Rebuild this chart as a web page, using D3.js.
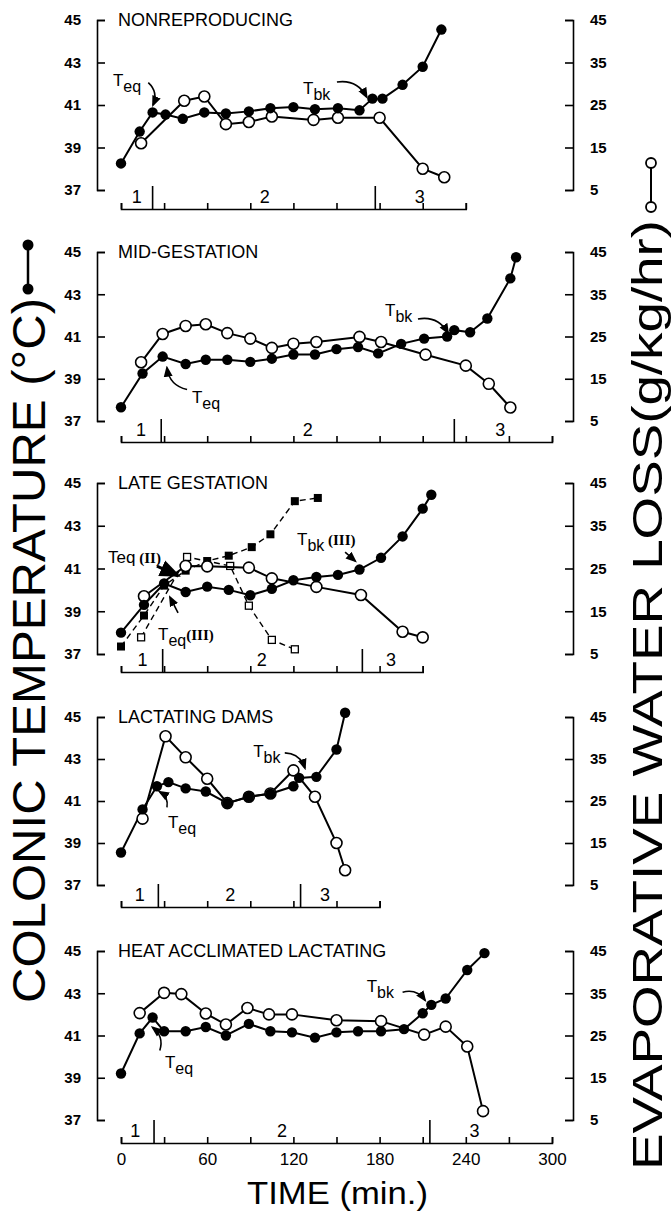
<!DOCTYPE html>
<html>
<head>
<meta charset="utf-8">
<script src="https://cdn.jsdelivr.net/npm/d3@7"></script>
<style>
  body { margin: 0; background: #fff; }
  svg { display: block; }
  text { font-family: "Liberation Sans", Arial, sans-serif; fill: #000; }
</style>
</head>
<body>
<svg id="chart" width="672" height="1213"></svg>
<script>
// ---- data (time in min, colonic temp in C, EWL in g/kg/hr)

// nonreproducing
const p1TempTime = [0, 13, 22, 31, 43, 58, 73, 89, 104, 120, 135, 151, 166, 175, 182, 196, 210, 223]
const p1Temp = [38.25, 39.75, 40.65, 40.55, 40.35, 40.65, 40.6, 40.7, 40.85, 40.9, 40.8, 40.85, 40.75, 41.3, 41.3, 41.95, 42.8, 44.55]
const p1EwlTime = [14, 44, 58, 73, 89, 105, 134, 151, 180, 210, 225]
const p1Ewl = [16, 26, 27, 20.5, 21, 22.3, 21.5, 22, 22, 10, 8]

// mid-gestation
const p2TempTime = [0, 15, 29, 45, 59, 74, 90, 105, 120, 135, 150, 165, 179, 195, 211, 227, 232, 243, 255, 271, 275]
const p2Temp = [37.65, 39.25, 40.05, 39.7, 39.9, 39.9, 39.8, 39.95, 40.15, 40.15, 40.4, 40.5, 40.2, 40.65, 40.9, 41, 41.3, 41.2, 41.85, 43.75, 44.75]
const p2EwlTime = [14, 29, 45, 59, 74, 90, 105, 120, 136, 166, 181, 212, 240, 256, 271]
const p2Ewl = [18.9, 25.6, 27.5, 27.9, 25.8, 24.5, 22.3, 23.3, 23.7, 24.9, 23.7, 20.7, 18.1, 13.8, 8.2]

// late gestation, group III (circles) and group II (squares, dashed)
const p3TempTime = [0, 16, 30, 45, 60, 75, 90, 105, 120, 136, 151, 166, 181, 196, 210, 216]
const p3Temp = [38, 39.3, 40.3, 39.9, 40.15, 40, 39.75, 40.05, 40.45, 40.6, 40.7, 40.95, 41.5, 42.5, 43.8, 44.45]
const p3EwlTime = [16, 45, 60, 89, 105, 136, 167, 196, 210]
const p3Ewl = [18.5, 25.6, 25.5, 25.2, 22.7, 20.7, 18.8, 10.2, 8.9]
const p3TempIITime = [0, 16, 30, 45, 60, 75, 91, 104, 121, 137]
const p3TempII = [37.35, 38.8, 40.2, 40.9, 41.35, 41.6, 42, 42.6, 44.15, 44.3]
const p3EwlIITime = [14, 46, 76, 89, 105, 121]
const p3EwlII = [8.9, 27.7, 25.6, 16.3, 8.3, 6.1]

// lactating dams
const p4TempTime = [0, 15, 25, 33, 45, 59, 74, 89, 104, 120, 124, 136, 150, 156]
const p4Temp = [38.55, 40.6, 41.7, 41.9, 41.6, 41.45, 40.9, 41.2, 41.35, 41.7, 42.1, 42.15, 43.45, 45.2]
const p4EwlTime = [15, 31, 45, 60, 74, 89, 104, 120, 135, 150, 156]
const p4Ewl = [20.8, 40.4, 35.4, 30.3, 24.5, 26, 26.8, 32.3, 26, 15, 8.5]

// heat acclimated lactating
const p5TempTime = [0, 13, 22, 30, 45, 59, 73, 89, 104, 119, 135, 150, 165, 181, 197, 210, 216, 226, 241, 253]
const p5Temp = [39.2, 41.1, 41.85, 41.2, 41.2, 41.4, 41, 41.55, 41.2, 41.15, 40.9, 41.15, 41.2, 41.2, 41.3, 42.05, 42.45, 42.75, 44.1, 44.9]
const p5EwlTime = [13, 30, 42, 59, 73, 88, 103, 119, 150, 181, 211, 226, 241, 252]
const p5Ewl = [30.3, 35.1, 34.8, 30.2, 27.6, 31.5, 30, 30, 28.6, 28.4, 25.2, 27.1, 22.4, 7.1]

const panelTitles = ['NONREPRODUCING', 'MID-GESTATION', 'LATE GESTATION', 'LACTATING DAMS', 'HEAT ACCLIMATED LACTATING']
const axisEnds = [240, 300, 210, 180, 300]
const phaseDividers = [[22, 177], [28, 232], [29, 168], [26, 125], [23, 215]]
const phaseLabelAt = [[11, 100, 208], [14, 130, 264], [15, 98, 188], [13, 76, 142], [10, 112, 246]]
const tempTicks = [37, 39, 41, 43, 45]
const ewlTicks = [5, 15, 25, 35, 45]
const timeLabels = [0, 60, 120, 180, 240, 300]

// annotations: [label, sub, extra, textT, textTemp, arrowFromT, arrowFromTemp, arrowToT, arrowToTemp, bend]
const notes = [
  [['T', 'eq', '', -5.6, 41.9, 19, 42.05, 22.3, 41.0, -1], ['T', 'bk', '', 126.7, 41.5, 150.3, 42.08, 171, 41.38, -1]],
  [['T', 'bk', '', 183.8, 41.98, 206.7, 41.83, 227.6, 41.17, -1], ['T', 'eq', '', 49.4, 37.87, 46, 38.49, 32, 39.52, -1]],
  [['Teq', '', ' (II)', -9, 41.25, 25, 41.11, 39, 40.69, 0], ['T', 'eq', '(III)', 25.8, 37.65, 39.7, 38.92, 34.1, 39.66, 0],
   ['T', 'bk', ' (III)', 122.5, 42.09, 156, 41.77, 163, 41.35, 0]],
  [['T', 'bk', '', 92, 43.1, 114, 43.29, 128, 42.57, -1], ['T', 'eq', '', 32.7, 39.7, 32, 40.7, 27, 41.43, 1]],
  [['T', 'bk', '', 171, 43.05, 196, 43.05, 211.6, 42.67, -1], ['T', 'eq', '', 30.6, 39.48, 27, 40.29, 22, 41.38, 1]]
]

// ---- layout
const panelTops = [20, 252, 483, 717, 951]
const panelBottoms = [190, 421, 654, 885, 1120]
const timeAxisY = [209, 442, 672, 907, 1143]

const svg = d3.select('#chart')
const x = d3.scaleLinear().domain([0, 300]).range([121, 552])

svg.append('defs').append('marker')
  .attr('id', 'head')
  .attr('viewBox', '0 0 10 10')
  .attr('refX', 8).attr('refY', 5)
  .attr('markerWidth', 7).attr('markerHeight', 7)
  .attr('orient', 'auto')
  .append('path').attr('d', 'M0,1 L10,5 L0,9 Z').attr('fill', '#000')

function zip(a, b) { return a.map((v, i) => [v, b[i]]) }

const series = [
  { temp: zip(p1TempTime, p1Temp), ewl: zip(p1EwlTime, p1Ewl) },
  { temp: zip(p2TempTime, p2Temp), ewl: zip(p2EwlTime, p2Ewl) },
  { temp: zip(p3TempTime, p3Temp), ewl: zip(p3EwlTime, p3Ewl),
    tempII: zip(p3TempIITime, p3TempII), ewlII: zip(p3EwlIITime, p3EwlII) },
  { temp: zip(p4TempTime, p4Temp), ewl: zip(p4EwlTime, p4Ewl) },
  { temp: zip(p5TempTime, p5Temp), ewl: zip(p5EwlTime, p5Ewl) }
]

series.forEach(function (s, i) {
  const yT = d3.scaleLinear().domain([37, 45]).range([panelBottoms[i], panelTops[i]])
  const yE = d3.scaleLinear().domain([5, 45]).range([panelBottoms[i], panelTops[i]])
  const g = svg.append('g')

  // left axis, ticks pointing inward
  const la = g.append('g').attr('transform', 'translate(97,0)')
    .call(d3.axisLeft(yT).tickValues(tempTicks).tickSizeInner(-8).tickSizeOuter(-8).tickPadding(16))
  const ra = g.append('g').attr('transform', 'translate(573,0)')
    .call(d3.axisRight(yE).tickValues(ewlTicks).tickSizeInner(-8).tickSizeOuter(-8).tickPadding(17))
  ;[la, ra].forEach(function (a) {
    a.selectAll('path,line').attr('stroke', '#000').attr('stroke-width', 1.6)
    a.selectAll('text').attr('font-size', 15).attr('font-weight', 'bold')
      .attr('font-family', '"DejaVu Sans", sans-serif').attr('fill', '#000')
  })

  // time axis
  const ta = g.append('g').attr('transform', 'translate(0,' + timeAxisY[i] + ')')
    .call(d3.axisBottom(x.copy().domain([0, axisEnds[i]]).range([x(0), x(axisEnds[i])]))
      .tickValues(d3.range(0, axisEnds[i] + 1, 30))
      .tickSizeInner(-6).tickSizeOuter(-6).tickPadding(10)
      .tickFormat(function (d) { return (i === 4 && timeLabels.indexOf(d) >= 0) ? d : '' }))
  ta.selectAll('path,line').attr('stroke', '#000').attr('stroke-width', 1.6)
  ta.selectAll('text').attr('font-size', 17).attr('fill', '#000')
    .attr('font-family', '"DejaVu Sans", sans-serif')

  g.selectAll('.div').data(phaseDividers[i]).enter().append('line')
    .attr('x1', d => x(d)).attr('x2', d => x(d))
    .attr('y1', timeAxisY[i]).attr('y2', timeAxisY[i] - 23)
    .attr('stroke', '#000').attr('stroke-width', 1.6)
  g.selectAll('.ph').data(phaseLabelAt[i]).enter().append('text')
    .attr('x', d => x(d)).attr('y', timeAxisY[i] - 6)
    .attr('text-anchor', 'middle').attr('font-size', 18)
    .text((d, k) => k + 1)

  // panel title
  g.append('text').attr('x', 118).attr('y', panelTops[i] + 6)
    .attr('font-size', 18).text(panelTitles[i])

  const lineT = d3.line().x(d => x(d[0])).y(d => yT(d[1]))
  const lineE = d3.line().x(d => x(d[0])).y(d => yE(d[1]))

  // group II dashed series (late gestation only)
  if (s.tempII) {
    g.append('path').datum(s.ewlII).attr('d', lineE).attr('fill', 'none')
      .attr('stroke', '#000').attr('stroke-width', 1.4).attr('stroke-dasharray', '6,4')
    g.append('path').datum(s.tempII).attr('d', lineT).attr('fill', 'none')
      .attr('stroke', '#000').attr('stroke-width', 1.4).attr('stroke-dasharray', '6,4')
    g.selectAll('.sqo').data(s.ewlII).enter().append('rect')
      .attr('x', d => x(d[0]) - 3.5).attr('y', d => yE(d[1]) - 3.5)
      .attr('width', 7).attr('height', 7)
      .attr('fill', '#fff').attr('stroke', '#000').attr('stroke-width', 1.3)
    g.selectAll('.sqf').data(s.tempII).enter().append('rect')
      .attr('x', d => x(d[0]) - 4).attr('y', d => yT(d[1]) - 4)
      .attr('width', 8).attr('height', 8).attr('fill', '#000')
  }

  g.append('path').datum(s.ewl).attr('d', lineE).attr('fill', 'none')
    .attr('stroke', '#000').attr('stroke-width', 2)
  g.append('path').datum(s.temp).attr('d', lineT).attr('fill', 'none')
    .attr('stroke', '#000').attr('stroke-width', 2)
  g.selectAll('.open').data(s.ewl).enter().append('circle')
    .attr('cx', d => x(d[0])).attr('cy', d => yE(d[1])).attr('r', 5.5)
    .attr('fill', '#fff').attr('stroke', '#000').attr('stroke-width', 1.6)
  g.selectAll('.fill').data(s.temp).enter().append('circle')
    .attr('cx', d => x(d[0])).attr('cy', d => yT(d[1])).attr('r', 5.2)
    .attr('fill', '#000')

  // T_eq / T_bk labels with arrows
  notes[i].forEach(function (n) {
    const t = g.append('text').attr('x', x(n[3])).attr('y', yT(n[4])).attr('font-size', 17)
    t.append('tspan').text(n[0])
    if (n[1]) t.append('tspan').attr('dy', 6).attr('font-size', 16).text(n[1])
    if (n[2]) t.append('tspan').attr('dy', n[1] ? -6 : 0).attr('font-size', 15).attr('font-weight', 'bold')
      .attr('font-family', '"Liberation Serif", serif').text(n[2])
    const x0 = x(n[5]), y0 = yT(n[6]), x1 = x(n[7]), y1 = yT(n[8])
    const mx = (x0 + x1) / 2, my = (y0 + y1) / 2
    const dx = x1 - x0, dy = y1 - y0
    const cx = mx - dy * 0.35 * n[9], cy = my + dx * 0.35 * n[9]
    g.append('path').attr('d', 'M' + x0 + ',' + y0 + ' Q' + cx + ',' + cy + ' ' + x1 + ',' + y1)
      .attr('fill', 'none').attr('stroke', '#000')
      .attr('stroke-width', n[2] === ' (II)' ? 3 : 1.6)
      .attr('marker-end', 'url(#head)')
  })
})

// axis titles
svg.append('text').attr('transform', 'translate(247,1204)')
  .attr('font-size', 32).attr('textLength', 181).attr('lengthAdjust', 'spacingAndGlyphs')
  .text('TIME (min.)')

svg.append('text').attr('transform', 'translate(45,1003) rotate(-90)')
  .attr('font-size', 46).attr('textLength', 705).attr('lengthAdjust', 'spacingAndGlyphs')
  .text('COLONIC TEMPERATURE (°C)')
svg.append('line').attr('x1', 28).attr('x2', 28).attr('y1', 245).attr('y2', 289)
  .attr('stroke', '#000').attr('stroke-width', 2.5)
svg.selectAll('.ls').data([245, 289]).enter().append('circle')
  .attr('cx', 28).attr('cy', d => d).attr('r', 5.5).attr('fill', '#000')

svg.append('text').attr('transform', 'translate(662,1170) rotate(-90)')
  .attr('font-size', 43).attr('textLength', 950).attr('lengthAdjust', 'spacingAndGlyphs')
  .text('EVAPORATIVE WATER LOSS(g/kg/hr)')
svg.append('line').attr('x1', 651).attr('x2', 651).attr('y1', 163).attr('y2', 207)
  .attr('stroke', '#000').attr('stroke-width', 2)
svg.selectAll('.rs').data([163, 207]).enter().append('circle')
  .attr('cx', 651).attr('cy', d => d).attr('r', 5).attr('fill', '#fff')
  .attr('stroke', '#000').attr('stroke-width', 1.8)
</script>
</body>
</html>
